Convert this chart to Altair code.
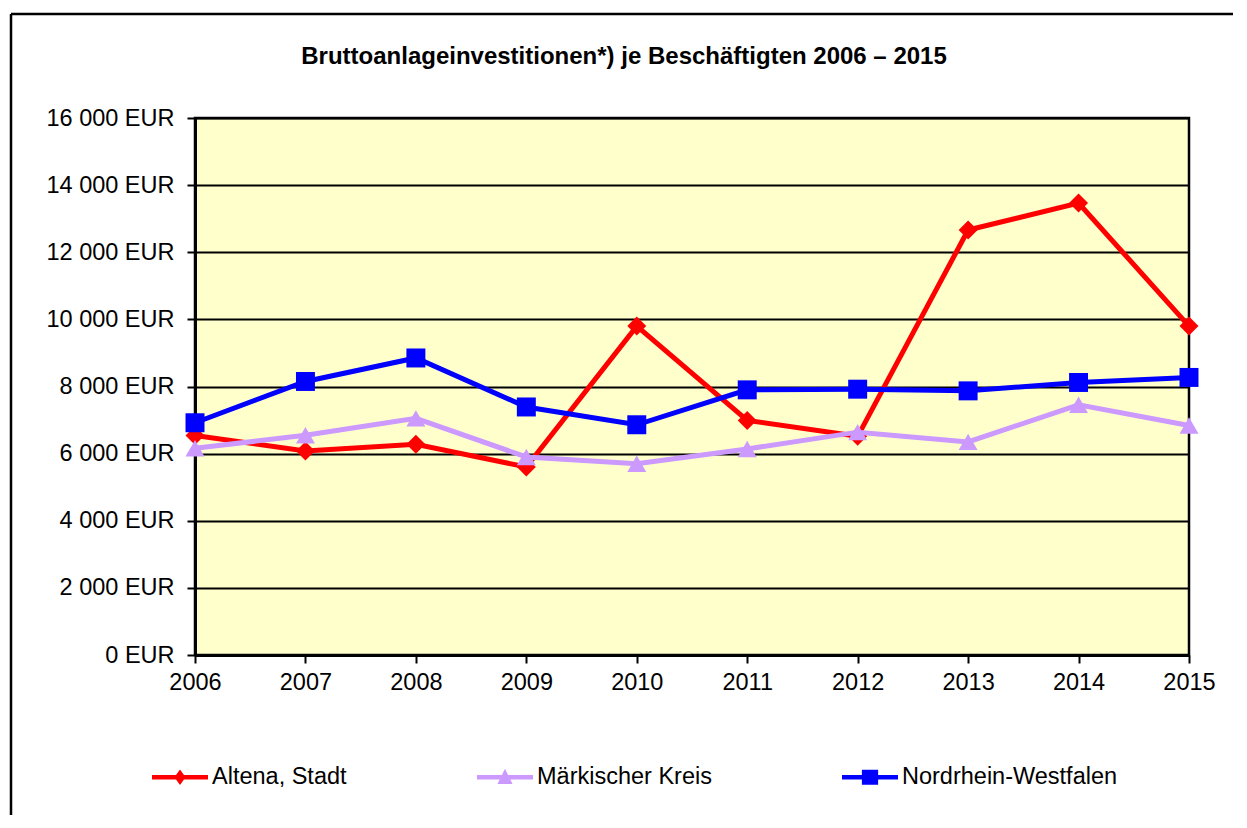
import altair as alt
import pandas as pd

years = [2006, 2007, 2008, 2009, 2010, 2011, 2012, 2013, 2014, 2015]
series_names = ["Altena, Stadt", "Märkischer Kreis", "Nordrhein-Westfalen"]
altena = [6540, 6080, 6280, 5600, 9800, 6990, 6515, 12663, 13465, 9800]
maerkischer = [6160, 6545, 7050, 5900, 5700, 6140, 6640, 6350, 7455, 6840]
nrw = [6920, 8150, 8850, 7390, 6860, 7900, 7920, 7870, 8120, 8270]
colors = ["#FF0000", "#CC99FF", "#0000FF"]
shapes = ["diamond", "triangle-up", "square"]
y_ticks = [0, 2000, 4000, 6000, 8000, 10000, 12000, 14000, 16000]
title_text = "Bruttoanlageinvestitionen*) je Beschäftigten 2006 – 2015"

rows = []
for name, vals in zip(series_names, [altena, maerkischer, nrw]):
    for yr, v in zip(years, vals):
        rows.append({"Jahr": str(yr), "Reihe": name, "Wert": v})
df = pd.DataFrame(rows)

FONT = "Liberation Sans"

# legend symbol paths (line stub + marker)
p_diamond = "M-1,-0.08L1,-0.08L1,0.08L-1,0.08Z M0,-0.28L0.2,0L0,0.28L-0.2,0Z"
p_triangle = "M-1,-0.08L1,-0.08L1,0.08L-1,0.08Z M0,-0.3L0.27,0.24L-0.27,0.24Z"
p_square = "M-1,-0.08L1,-0.08L1,0.08L-1,0.08Z M-0.29,-0.27L0.29,-0.27L0.29,0.27L-0.29,0.27Z"
legend_paths = [p_diamond, p_triangle, p_square]

x_enc = alt.X(
    "Jahr:O",
    scale=alt.Scale(type="point", padding=0),
    axis=alt.Axis(
        title=None, labelAngle=0, labelFont=FONT, labelFontSize=23.5, labelColor="#000",
        tickSize=8, tickColor="#000", tickWidth=2, labelPadding=7,
        domainColor="#000", domainWidth=3, grid=False,
    ),
)
y_enc = alt.Y(
    "Wert:Q",
    scale=alt.Scale(domain=[0, 16000], nice=False),
    axis=alt.Axis(
        title=None, values=y_ticks,
        labelExpr="replace(format(datum.value, ',d'), ',', ' ') + ' EUR'",
        labelFont=FONT, labelFontSize=23.5, labelColor="#000", labelPadding=13,
        tickSize=8, tickColor="#000", tickWidth=2,
        domainColor="#000", domainWidth=3,
        grid=True, gridColor="#000", gridWidth=2, gridOpacity=1,
    ),
)
leg = alt.Legend(
    title=None, orient="none", legendX=-43, legendY=631, direction="horizontal",
    symbolSize=3136, labelOffset=4, columnPadding=130, padding=0, labelLimit=500,
    labelFont=FONT, labelFontSize=23.5, labelColor="#000",
    symbolStrokeWidth=0, symbolOpacity=1,
)

base = alt.Chart(df)
layers = []
for name, shp, col in zip(series_names, shapes, colors):
    sub = base.transform_filter(alt.datum.Reihe == name)
    layers.append(sub.mark_line(strokeWidth=5, color=col).encode(x=x_enc, y=y_enc))
    layers.append(sub.mark_point(filled=True, size=360, opacity=1, strokeWidth=0,
                                 shape=shp, color=col).encode(x=x_enc, y=y_enc))

ghost = base.mark_point(filled=True, size=0).encode(
    x=x_enc, y=y_enc,
    color=alt.Color("Reihe:N", scale=alt.Scale(domain=series_names, range=colors), legend=leg),
    shape=alt.Shape("Reihe:N", scale=alt.Scale(domain=series_names, range=legend_paths), legend=leg),
)

one = pd.DataFrame({"a": [0]})
frame_top = alt.Chart(one).mark_rule(stroke="#000", strokeWidth=2.5).encode(
    x=alt.value(-184), x2=alt.value(1500), y=alt.value(-104))
frame_left = alt.Chart(one).mark_rule(stroke="#000", strokeWidth=2.5).encode(
    x=alt.value(-184), y=alt.value(-104), y2=alt.value(1000))

chart = alt.layer(frame_top, frame_left, *layers, ghost).properties(
    width=994, height=537,
    title=alt.TitleParams(
        title_text, font=FONT, fontSize=24, fontWeight="bold", color="#000",
        anchor="middle", frame="group", baseline="alphabetic", offset=-75, dx=-68,
    ),
    autosize=alt.AutoSizeParams(type="none"),
    padding={"left": 187, "top": 110, "right": 44, "bottom": 160},
    background="#FFFFFF",
).configure_view(fill="#FFFFCC", stroke="#000", strokeWidth=2.5)

chart.save("out.html", embed_options={"renderer": "svg", "actions": False})
